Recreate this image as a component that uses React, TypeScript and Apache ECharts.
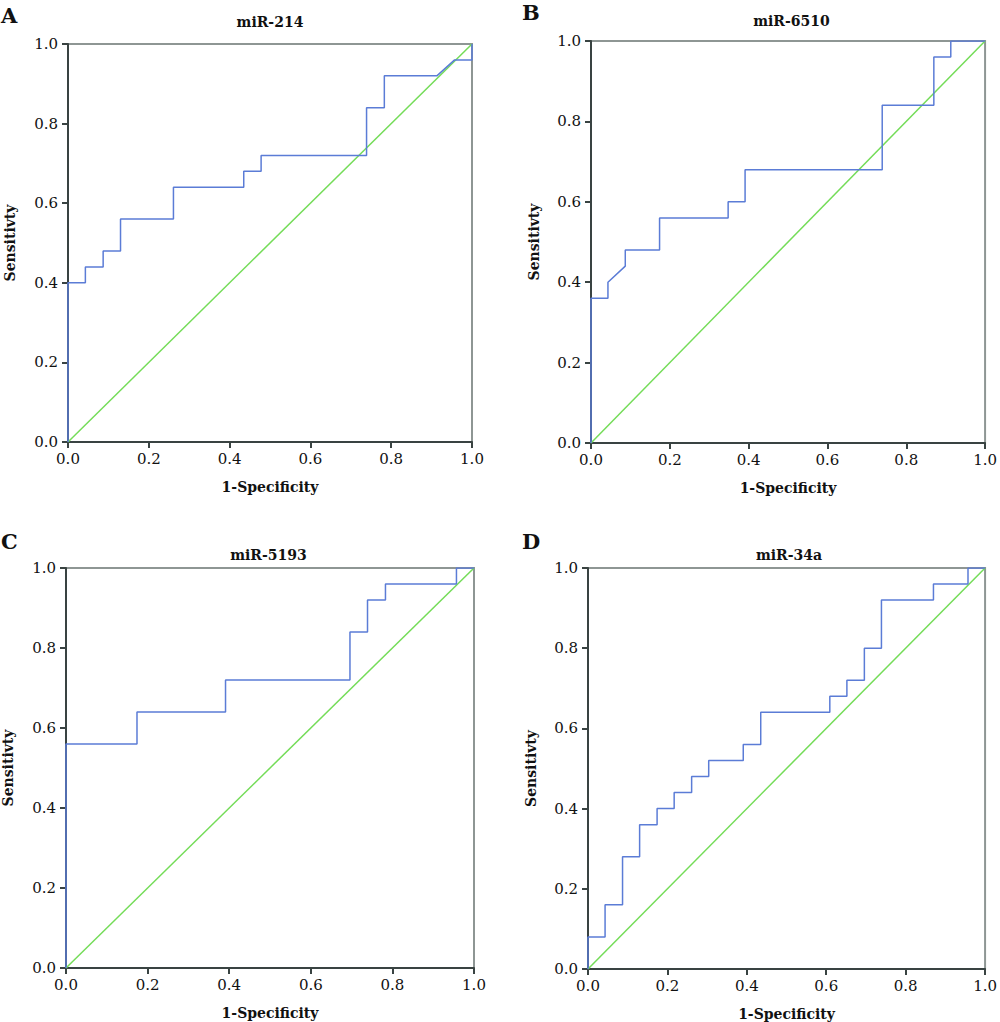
import React, { useEffect, useRef } from 'react';
import * as echarts from 'echarts';

// ROC curve vertices (x = 1-Specificity, y = Sensitivity)
const panelLetters = ['A', 'B', 'C', 'D'];
const panelTitles = ['miR-214', 'miR-6510', 'miR-5193', 'miR-34a'];
const tickLabels = ['0.0', '0.2', '0.4', '0.6', '0.8', '1.0'];

const fprA = [0, 0, 0.043, 0.043, 0.087, 0.087, 0.13, 0.13, 0.261, 0.261, 0.435, 0.435, 0.478, 0.478, 0.739, 0.739, 0.783, 0.783, 0.913, 0.957, 1, 1];
const tprA = [0, 0.4, 0.4, 0.44, 0.44, 0.48, 0.48, 0.56, 0.56, 0.64, 0.64, 0.68, 0.68, 0.72, 0.72, 0.84, 0.84, 0.92, 0.92, 0.96, 0.96, 1];

const fprB = [0, 0, 0.043, 0.043, 0.087, 0.087, 0.174, 0.174, 0.348, 0.348, 0.391, 0.391, 0.739, 0.739, 0.87, 0.87, 0.913, 0.913, 1];
const tprB = [0, 0.36, 0.36, 0.4, 0.44, 0.48, 0.48, 0.56, 0.56, 0.6, 0.6, 0.68, 0.68, 0.84, 0.84, 0.96, 0.96, 1, 1];

const fprC = [0, 0, 0.174, 0.174, 0.391, 0.391, 0.696, 0.696, 0.739, 0.739, 0.783, 0.783, 0.957, 0.957, 1];
const tprC = [0, 0.56, 0.56, 0.64, 0.64, 0.72, 0.72, 0.84, 0.84, 0.92, 0.92, 0.96, 0.96, 1, 1];

const fprD = [0, 0, 0.043, 0.043, 0.087, 0.087, 0.13, 0.13, 0.174, 0.174, 0.217, 0.217, 0.261, 0.261, 0.304, 0.304, 0.391, 0.391, 0.435, 0.435, 0.609, 0.609, 0.652, 0.652, 0.696, 0.696, 0.739, 0.739, 0.87, 0.87, 0.957, 0.957, 1];
const tprD = [0, 0.08, 0.08, 0.16, 0.16, 0.28, 0.28, 0.36, 0.36, 0.4, 0.4, 0.44, 0.44, 0.48, 0.48, 0.52, 0.52, 0.56, 0.56, 0.64, 0.64, 0.68, 0.68, 0.72, 0.72, 0.8, 0.8, 0.92, 0.92, 0.96, 0.96, 1, 1];

const refX = [0, 1];
const refY = [0, 1];

const curves = [
  [fprA, tprA],
  [fprB, tprB],
  [fprC, tprC],
  [fprD, tprD],
];

// plot areas in page pixels
const grids = [
  { left: 68, top: 44, width: 404, height: 398 },
  { left: 591, top: 41, width: 401, height: 402 },
  { left: 63, top: 568, width: 411, height: 400 },
  { left: 588, top: 568, width: 402, height: 403 },
];

const FONT = '"DejaVu Serif", serif';
const AXIS_DARK = '#394342';
const BOX_GRAY = '#8e9694';
const BLUE = '#5b7cd6';
const GREEN = '#74dc58';

const App: React.FC = () => {
  const chartRef = useRef<HTMLDivElement>(null);

  useEffect(() => {
    if (!chartRef.current) return;
    const chart = echarts.init(chartRef.current, undefined, { renderer: 'svg' });

    const axisCommon = (idx: number, name: string, gap: number, labelMargin: number) => ({
      type: 'value' as const,
      gridIndex: idx,
      min: 0,
      max: 1,
      interval: 0.2,
      name,
      nameLocation: 'middle' as const,
      nameGap: gap,
      nameTextStyle: { fontFamily: FONT, fontWeight: 'bold' as const, fontSize: 14, color: '#111' },
      axisLine: { show: true, lineStyle: { color: AXIS_DARK, width: 2 } },
      axisTick: { show: true, length: 6, lineStyle: { color: AXIS_DARK, width: 2 } },
      axisLabel: {
        fontFamily: FONT,
        fontSize: 15,
        color: '#111',
        margin: labelMargin,
        formatter: (v: number) => tickLabels[Math.round(v * 5)],
      },
      splitLine: { show: false },
    });

    const series: any[] = [];
    curves.forEach(([fpr, tpr], i) => {
      series.push({
        type: 'line',
        xAxisIndex: i,
        yAxisIndex: i,
        data: refX.map((x, k) => [x, refY[k]]),
        showSymbol: false,
        lineStyle: { color: GREEN, width: 1.5 },
        silent: true,
      });
      series.push({
        type: 'line',
        xAxisIndex: i,
        yAxisIndex: i,
        data: fpr.map((x, k) => [x, tpr[k]]),
        showSymbol: false,
        lineStyle: { color: BLUE, width: 1.5 },
        silent: true,
      });
    });

    const letterPos = [
      [1, 15],
      [522, 12],
      [1, 541],
      [522, 541],
    ];
    const titleY = [22, 21, 555, 555];

    const graphics: any[] = [];
    grids.forEach((g, i) => {
      graphics.push({
        type: 'text',
        x: letterPos[i][0],
        y: letterPos[i][1],
        style: {
          text: panelLetters[i],
          fontFamily: FONT,
          fontWeight: 'bold',
          fontSize: 21,
          fill: '#111',
          textVerticalAlign: 'middle',
        },
      });
      graphics.push({
        type: 'text',
        x: g.left + g.width / 2,
        y: titleY[i],
        style: {
          text: panelTitles[i],
          fontFamily: FONT,
          fontWeight: 'bold',
          fontSize: 14,
          fill: '#111',
          textAlign: 'center',
          textVerticalAlign: 'middle',
        },
      });
    });

    chart.setOption({
      animation: false,
      backgroundColor: '#fff',
      grid: grids.map((g) => ({
        ...g,
        show: true,
        borderColor: BOX_GRAY,
        borderWidth: 2,
        backgroundColor: 'transparent',
      })),
      xAxis: grids.map((_, i) => axisCommon(i, '1-Specificity', 38, 9)),
      yAxis: grids.map((_, i) => axisCommon(i, 'Sensitivty', i % 2 === 0 ? 51 : 50, 10)),
      series,
      graphic: graphics,
    } as any);

    return () => {
      chart.dispose();
    };
  }, []);

  return (
    <div
      ref={chartRef}
      style={{ position: 'absolute', left: 0, top: 0, width: '1000px', height: '1022px' }}
    />
  );
};

export default App;
